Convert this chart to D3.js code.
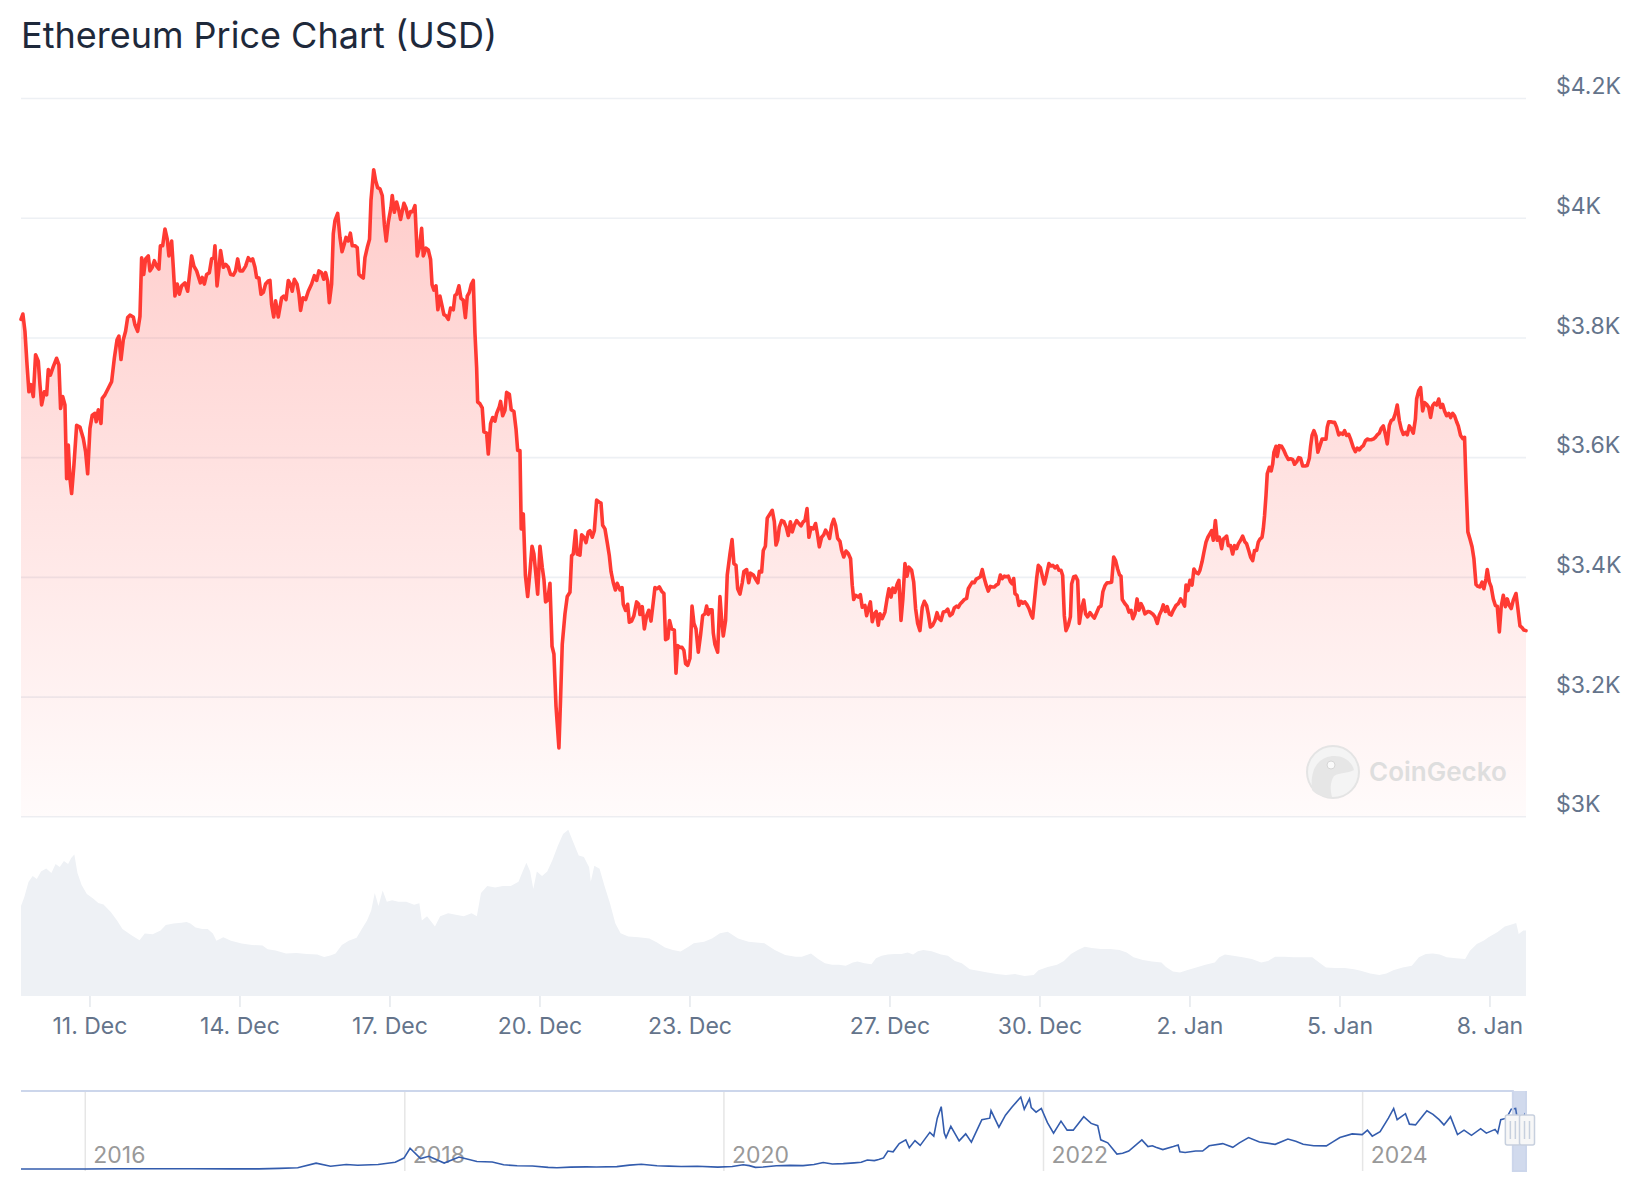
<!DOCTYPE html>
<html><head><meta charset="utf-8">
<script src="https://cdn.jsdelivr.net/npm/d3@7"></script>
<style>
html,body{margin:0;padding:0;background:#fff;}
svg{display:block;font-family:Inter,"Noto Sans",sans-serif;}
</style></head><body>
<svg id="chart" width="1644" height="1200"></svg>
<script>
// ---------- DATA ----------
const title = "Ethereum Price Chart (USD)";
// hours since 2024-12-11 00:00 UTC
const priceHours = [-33.1,-32.2,-31.2,-30.2,-29.3,-28.3,-27.2,-26.1,-24.8,-24.0,-23.2,-21.9,-20.8,-20.0,-19.0,-17.6,-16.0,-14.9,-14.1,-13.1,-12.0,-11.2,-10.4,-9.6,-8.8,-7.7,-6.4,-4.8,-3.2,-2.1,-1.1,0.0,1.1,2.4,3.0,4.0,5.3,5.9,7.2,8.8,10.4,11.7,13.0,13.9,14.9,16.0,17.1,18.1,19.2,20.8,21.6,22.9,24.0,24.8,25.8,26.7,28.0,28.8,29.9,30.9,32.0,33.1,33.8,34.9,36.0,37.1,37.9,39.2,40.0,40.8,41.9,42.9,44.0,45.6,46.9,48.0,48.8,49.9,51.2,53.0,53.9,54.9,56.0,57.3,58.4,59.5,60.0,61.0,61.9,62.7,64.0,65.1,66.4,67.5,68.8,69.9,70.9,72.0,73.3,74.7,76.0,77.1,78.1,79.2,80.0,81.1,82.1,83.2,84.3,85.6,86.4,87.2,88.2,89.1,90.4,92.0,93.0,94.1,95.2,96.2,97.1,98.1,99.4,100.3,101.1,102.2,103.5,104.8,106.4,107.7,108.8,109.9,111.2,112.2,113.1,114.1,114.9,116.0,116.8,117.6,118.9,120.0,121.0,122.1,122.9,124.0,125.0,125.9,127.2,128.3,129.1,130.4,131.2,132.0,133.1,134.2,134.9,136.2,137.1,138.1,139.2,140.3,141.3,142.2,143.2,144.5,145.1,146.1,
147.2,148.2,149.1,150.7,151.7,152.8,153.9,154.9,156.0,157.1,158.1,159.2,160.0,161.3,162.4,163.5,164.2,165.1,166.1,167.0,168.0,168.8,169.9,170.9,172.0,173.1,174.4,175.2,176.0,177.1,178.1,179.2,180.2,181.1,182.1,183.0,184.0,184.8,185.6,186.1,187.2,188.3,189.1,190.4,191.2,192.3,193.3,194.4,195.2,196.5,197.1,198.1,199.2,200.0,201.3,202.2,203.5,204.5,205.3,206.4,207.0,208.0,209.0,210.1,211.2,212.2,213.1,213.9,214.9,216.0,217.1,217.9,218.7,219.7,220.8,221.8,222.7,223.7,225.1,225.9,226.7,228.0,229.1,230.4,231.2,232.0,233.1,233.9,235.2,236.0,237.1,238.1,239.2,240.0,241.1,242.1,243.2,244.3,245.3,246.1,247.2,248.3,249.3,250.1,251.2,252.2,253.1,254.4,255.4,256.0,257.1,258.1,258.9,260.0,261.1,262.4,263.4,264.0,265.1,266.1,267.2,268.2,269.3,270.4,271.2,272.3,273.3,274.4,275.5,276.3,277.4,278.2,279.2,280.5,281.3,282.1,283.2,284.2,285.1,285.9,286.9,288.0,289.0,289.9,290.9,292.0,293.1,294.1,295.2,296.0,296.8,297.6,298.6,299.2,300.0,301.3,302.4,303.2,304.0,305.1,305.9,307.2,308.2,309.1,310.1,310.9,312.0,313.1,313.9,315.2,316.2,317.1,318.4,319.7,320.6,321.3,322.4,323.2,324.2,325.1,326.4,
327.5,328.5,329.3,330.1,330.9,332.0,333.1,334.2,335.2,336.2,337.1,338.1,339.2,340.3,341.3,342.4,343.2,344.2,345.1,346.1,347.2,348.3,349.3,350.1,351.2,352.2,353.1,354.1,355.0,356.0,357.0,357.9,358.9,360.0,360.8,361.8,362.9,364.0,365.1,365.9,366.6,367.5,368.8,369.8,370.7,372.0,372.8,373.6,374.6,375.5,376.5,377.4,378.4,379.2,380.3,381.6,382.6,383.5,384.5,385.4,386.4,387.4,388.3,389.3,390.2,391.2,392.2,393.1,394.4,395.4,396.3,397.3,398.4,399.5,400.5,401.6,402.4,403.4,404.5,405.6,406.6,407.5,408.5,409.6,410.7,411.7,412.8,413.9,414.9,416.0,416.8,417.8,418.7,419.7,420.8,421.6,422.6,423.5,424.5,425.4,426.4,427.4,428.3,429.3,430.2,431.2,432.2,433.1,434.1,435.0,436.0,437.0,437.9,438.9,439.8,440.8,441.8,442.7,443.4,444.0,445.0,445.9,446.9,447.8,448.8,449.8,450.7,451.7,452.5,453.6,454.4,455.2,456.2,457.1,458.1,459.0,460.3,461.3,462.2,463.2,464.2,465.1,466.1,466.9,467.7,468.5,469.6,470.6,471.2,472.2,473.1,474.1,474.9,476.0,477.0,477.9,478.9,480.0,481.1,482.1,483.2,484.3,485.3,486.2,487.2,488.2,489.1,490.4,491.4,492.3,493.3,494.2,494.9,495.5,496.8,497.8,498.7,499.7,500.6,501.6,502.6,503.5,504.5,505.4,506.4,
507.8,508.8,510.1,511.2,512.3,513.3,514.4,515.2,516.2,517.1,518.1,519.0,520.0,521.3,522.4,523.5,524.5,525.4,526.1,527.0,528.0,529.0,529.9,530.9,532.0,532.8,533.8,534.7,535.7,536.6,537.6,538.4,539.2,540.2,541.1,542.1,543.2,544.0,545.0,545.6,546.4,547.5,548.5,549.4,550.4,551.2,552.3,553.3,554.4,555.2,556.2,557.1,558.1,559.0,560.0,560.8,561.6,562.6,563.2,563.8,564.5,565.1,566.1,567.0,567.7,568.3,569.3,569.9,570.9,572.0,573.1,574.1,575.2,576.3,577.3,578.2,579.2,580.2,581.1,582.1,583.2,584.3,585.3,585.9,586.6,587.5,588.5,589.4,590.4,591.4,592.3,593.3,593.9,594.6,595.5,596.5,597.4,598.4,599.4,600.3,601.3,602.2,603.2,604.2,605.1,606.4,607.4,608.3,609.3,610.2,611.2,612.2,613.1,614.1,615.0,616.0,617.0,617.9,618.9,619.8,620.8,621.8,622.7,623.7,624.6,625.6,626.6,627.5,628.5,629.4,630.4,631.4,632.3,633.3,634.2,635.2,636.2,636.8,637.8,638.7,639.7,640.6,641.6,642.6,643.5,644.5,645.4,646.4,647.4,648.3,649.3,650.2,651.2,652.2,653.1,654.1,655.0,656.0,656.8,657.9,658.9,659.8,660.5,661.4,662.4,663.4,664.3,665.3,666.2,667.2,668.2,669.1,670.1,670.7,671.7,672.6,673.6,674.6,675.5,676.5,677.4,678.4,679.4,680.3,681.3,682.2,683.2,684.5,685.4,686.4,687.4,688.3,689.3];
const prices = [3831,3840,3811,3755,3710,3722,3702,3772,3761,3722,3688,3710,3705,3747,3738,3752,3766,3755,3682,3702,3688,3565,3621,3565,3540,3587,3654,3651,3632,3610,3573,3649,3671,3674,3660,3680,3657,3699,3705,3716,3727,3766,3797,3803,3764,3797,3811,3834,3838,3835,3822,3811,3836,3934,3906,3932,3937,3912,3918,3929,3920,3915,3954,3954,3982,3965,3937,3962,3918,3870,3890,3873,3887,3892,3878,3912,3937,3920,3912,3892,3901,3890,3906,3909,3932,3934,3954,3887,3915,3946,3918,3923,3918,3906,3905,3912,3932,3912,3912,3920,3934,3929,3932,3918,3901,3900,3873,3876,3890,3895,3896,3856,3835,3862,3835,3867,3870,3864,3896,3890,3878,3898,3890,3873,3846,3867,3864,3878,3890,3904,3896,3912,3909,3898,3909,3895,3859,3890,3974,3996,4008,3968,3944,3957,3968,3962,3975,3954,3954,3951,3906,3902,3900,3934,3951,3965,4030,4081,4063,4051,4049,4038,3990,3962,3993,4018,4038,4010,
4027,4014,3998,4025,4017,4001,4011,4011,4021,3937,3950,3983,3937,3950,3947,3931,3889,3880,3887,3847,3870,3857,3839,3837,3831,3850,3847,3871,3873,3887,3866,3863,3834,3870,3876,3889,3896,3808,3751,3693,3690,3683,3643,3641,3606,3657,3667,3661,3674,3685,3694,3670,3679,3709,3706,3680,3677,3648,3612,3612,3481,3506,3404,3368,3410,3452,3439,3410,3372,3452,3417,3397,3359,3362,3390,3285,3272,3185,3115,3198,3288,3339,3368,3375,3436,3439,3478,3439,3437,3471,3467,3458,3476,3478,3467,3478,3529,3526,3524,3487,3481,3458,3436,3410,3391,3379,3390,3379,3383,3355,3345,3355,3325,3327,3336,3359,3355,3338,3351,3314,3336,3345,3327,3359,3383,3381,3384,3377,3373,3296,3298,3328,3314,3312,3240,3286,3283,3283,3278,3256,3253,3265,3352,3323,3314,3275,3304,3336,3339,3352,3338,3346,3346,3307,3288,3275,3368,3330,3302,3328,3404,3439,3463,3423,3420,3381,3372,3391,3410,3413,3391,3407,3404,3396,3391,3410,3409,3445,3452,3499,3506,
3512,3493,3454,3462,3484,3495,3493,3484,3470,3493,3476,3487,3495,3490,3486,3493,3495,3515,3467,3483,3481,3490,3470,3451,3467,3471,3479,3473,3465,3487,3497,3487,3465,3460,3445,3434,3444,3440,3431,3387,3363,3370,3367,3371,3350,3353,3336,3347,3359,3326,3339,3343,3320,3339,3331,3342,3364,3381,3367,3382,3375,3388,3395,3328,3364,3423,3402,3417,3412,3392,3348,3323,3311,3350,3360,3353,3339,3317,3320,3328,3341,3331,3328,3342,3343,3347,3336,3339,3349,3352,3350,3356,3359,3363,3365,3381,3387,3392,3391,3397,3399,3401,3413,3398,3387,3377,3385,3384,3384,3387,3389,3404,3398,3402,3401,3402,3393,3389,3398,3373,3370,3353,3360,3357,3359,3354,3348,3338,3332,3370,3398,3420,3416,3403,3389,3402,3423,3419,3420,3416,3419,3412,3412,3403,3336,3311,3320,3334,3389,3401,3402,3395,3323,3348,3362,3339,3334,3341,3336,3332,3341,3350,3352,3376,3386,3391,3391,3392,3434,3428,3414,3404,3402,3363,3356,3352,3342,3345,3331,3339,3364,3345,3356,3350,3339,
3343,3342,3339,3334,3323,3337,3345,3354,3343,3351,3339,3337,3345,3353,3356,3364,3359,3352,3387,3378,3395,3387,3414,3408,3406,3412,3426,3442,3459,3467,3473,3478,3462,3495,3462,3467,3448,3464,3467,3469,3453,3453,3439,3453,3448,3456,3462,3469,3459,3456,3445,3434,3428,3445,3445,3459,3464,3467,3481,3503,3537,3573,3584,3578,3589,3609,3619,3602,3620,3619,3612,3604,3597,3598,3597,3589,3593,3600,3599,3586,3586,3587,3599,3619,3637,3645,3636,3609,3620,3631,3631,3631,3651,3660,3660,3659,3659,3651,3638,3641,3639,3645,3637,3639,3631,3617,3610,3616,3613,3617,3620,3628,3631,3630,3630,3631,3634,3638,3641,3649,3653,3639,3623,3654,3662,3664,3674,3688,3662,3648,3639,3642,3638,3653,3648,3641,3664,3698,3712,3717,3678,3692,3689,3684,3667,3687,3691,3688,3698,3684,3689,3678,3670,3674,3667,3674,3670,3660,3653,3637,3632,3634,3559,3476,3464,3451,3431,3388,3385,3384,3392,3381,3398,3413,3392,3384,3364,3353,3352,3309,3351,3370,3351,3364,3353,3348,3362,3373,3348,3319,3316,3312,3311];

const volumeHours = [-33.1,-31.5,-29.5,-27.5,-25.5,-23.5,-21.0,-18.5,-16.5,-14.5,-12.5,-10.5,-9.0,-7.5,-6.0,-4.0,-1.5,1.5,4.0,6.5,10.0,13.0,15.6,20.1,23.8,26.3,30.1,33.9,36.4,40.1,43.9,46.4,48.2,50.7,53.9,56.5,59.0,60.7,64.0,67.7,72.8,77.8,82.8,85.3,89.1,94.1,99.1,104.1,109.1,112.4,115.4,117.9,120.9,124.2,128.0,130.5,133.0,135.0,136.7,138.5,140.5,142.5,145.0,148.0,151.8,155.6,158.1,159.3,161.8,165.6,168.1,171.9,175.6,179.4,183.2,185.7,187.7,190.7,194.5,198.2,202.0,205.7,207.7,209.5,211.3,212.8,214.5,217.0,219.5,222.0,224.6,227.1,229.6,232.1,234.6,237.1,239.6,240.4,242.1,244.6,247.1,249.6,252.2,254.7,258.4,263.4,268.5,272.2,276.0,279.8,283.5,287.3,289.8,294.8,298.6,302.4,306.1,311.1,316.1,323.7,328.7,333.7,338.7,341.7,346.1,349.5,352.8,356.2,359.5,362.8,366.2,368.4,371.8,375.1,377.3,380.0,382.9,386.2,389.6,392.5,395.1,397.4,400.0,404.0,408.5,411.8,415.2,418.5,422.3,426.3,430.8,435.2,439.7,444.1,448.6,453.0,455.3,459.7,464.2,467.5,470.9,474.2,477.5,480.9,485.3,489.8,494.2,497.6,500.9,505.4,509.8,514.3,516.5,519.8,523.2,526.5,531.0,535.4,539.9,542.1,544.8,548.8,553.3,557.7,562.2,565.5,568.9,573.3,577.8,582.2,586.7,590.0,593.3,597.8,602.3,606.7,610.0,614.5,618.9,622.3,625.6,630.1,634.5,637.9,641.2,644.6,647.9,651.2,655.7,660.1,662.4,665.7,669.1,671.3,675.7,679.1,682.4,684.6,685.8,688.0,689.3];
// 24h volume, billions USD
const volumes = [30.0,33.0,38.0,40.0,39.0,41.5,42.5,41.0,44.0,43.0,45.0,44.0,46.0,47.2,41.0,37.0,34.0,32.5,31.0,30.5,28.0,25.2,22.3,20.2,18.6,20.8,20.6,21.8,23.7,24.2,24.4,24.7,24.2,22.8,22.3,22.3,20.8,18.4,19.6,18.4,17.5,17.0,16.8,15.6,15.2,14.2,14.3,14.0,13.8,13.0,13.5,14.2,17.0,18.4,19.4,22.3,25.2,28.5,34.3,30.0,35.2,31.4,31.9,31.4,31.4,30.4,30.9,25.2,26.6,23.2,26.6,27.6,27.1,26.6,27.6,26.6,34.3,36.7,36.2,36.7,36.7,38.1,41.5,44.4,41.5,35.7,41.5,40.0,41.5,45.3,50.1,54.0,55.4,51.1,46.8,46.3,42.9,38.1,43.4,42.4,36.4,30.9,24.2,20.9,19.8,19.6,19.2,17.8,16.2,15.3,14.8,16.4,17.6,18.1,19.2,20.9,21.4,19.2,18.1,17.6,15.3,13.7,13.1,13.1,14.2,12.3,10.9,10.4,10.4,10.1,11.2,11.5,10.9,10.6,12.6,13.4,13.8,14.0,14.0,14.5,13.8,14.9,15.3,14.9,13.8,13.4,11.7,10.9,8.9,8.4,7.8,7.3,7.0,7.3,6.7,7.0,8.6,9.7,10.4,11.7,14.0,15.3,16.4,16.0,15.7,15.7,15.3,14.5,12.9,12.0,11.5,11.2,9.7,8.2,7.8,8.6,9.5,10.4,11.2,12.9,13.8,13.4,12.9,12.3,11.2,11.7,13.1,13.1,12.9,12.9,12.9,11.2,9.5,9.3,9.3,8.9,8.4,7.5,7.0,7.5,8.6,9.5,10.1,12.9,14.0,14.2,13.8,12.9,12.6,12.3,15.1,17.3,18.5,19.6,21.3,23.2,23.8,24.3,20.7,21.8,21.8];

const xTickDates = ["2024-12-11","2024-12-14","2024-12-17","2024-12-20","2024-12-23","2024-12-27","2024-12-30","2025-01-02","2025-01-05","2025-01-08"];
const xTickLabels = ["11. Dec","14. Dec","17. Dec","20. Dec","23. Dec","27. Dec","30. Dec","2. Jan","5. Jan","8. Jan"];
const yTicks = [3000,3200,3400,3600,3800,4000,4200];
const yTickLabels = ["$3K","$3.2K","$3.4K","$3.6K","$3.8K","$4K","$4.2K"];

const navDates = ["2015-08-07","2015-10-01","2016-01-01","2016-03-15","2016-06-15","2016-09-01","2016-12-01","2017-02-01","2017-03-20","2017-05-01","2017-06-12","2017-07-15","2017-08-20","2017-09-15","2017-11-01","2017-12-10","2017-12-30","2018-01-13","2018-02-06","2018-02-25","2018-04-01","2018-05-05","2018-06-15","2018-07-20","2018-08-15","2018-09-15","2018-10-20","2018-11-25","2018-12-15","2019-01-15","2019-02-20","2019-03-15","2019-05-01","2019-05-30","2019-06-26","2019-08-01","2019-08-28","2019-09-25","2019-11-01","2019-12-18","2020-01-20","2020-02-14","2020-02-28","2020-03-13","2020-03-31","2020-04-30","2020-05-31","2020-06-30","2020-07-25","2020-08-15","2020-09-05","2020-09-30","2020-10-25","2020-11-10","2020-11-24","2020-12-10","2020-12-20","2020-12-31","2021-01-10","2021-01-22","2021-02-05","2021-02-20","2021-02-28","2021-03-13","2021-03-25","2021-04-16","2021-04-25","2021-05-03","2021-05-12","2021-05-19","2021-05-23","2021-06-03","2021-06-22","2021-07-07","2021-07-20","2021-08-05","2021-08-13","2021-08-31","2021-09-03","2021-09-21","2021-10-06","2021-10-21","2021-11-10","2021-11-18","2021-11-30","2021-12-04","2021-12-15","2021-12-27","2022-01-10","2022-01-24","2022-02-10","2022-02-24","2022-03-10","2022-04-03","2022-04-20","2022-05-05","2022-05-12","2022-05-28","2022-06-18","2022-07-01","2022-07-15","2022-08-14","2022-08-28","2022-09-07","2022-09-15","2022-10-01","2022-10-25","2022-11-05","2022-11-09","2022-11-21","2022-12-15","2022-12-31","2023-01-15","2023-02-15","2023-03-10","2023-03-25","2023-04-15","2023-05-10","2023-06-15","2023-07-14","2023-08-01","2023-08-18","2023-09-11","2023-10-10","2023-10-24","2023-11-10","2023-12-08","2023-12-31","2024-01-12","2024-01-23","2024-02-10","2024-02-29","2024-03-12","2024-03-20","2024-04-08","2024-04-17","2024-05-01","2024-05-20","2024-05-27","2024-06-10","2024-06-24","2024-07-05","2024-07-20","2024-08-05","2024-08-20","2024-09-06","2024-09-27","2024-10-10","2024-10-30","2024-11-05","2024-11-12","2024-11-25","2024-12-06","2024-12-16","2024-12-20","2024-12-31","2025-01-06","2025-01-08"];
const navPrices = [2.8,0.7,1,12,18,12,8,11,45,80,390,180,300,250,300,450,730,1390,700,850,400,800,500,470,280,220,200,110,85,125,140,135,160,260,320,220,190,165,180,125,170,280,225,110,133,215,245,226,300,430,335,360,410,450,600,560,640,740,1200,1150,1700,1950,1420,1900,1580,2450,2200,3400,4170,2400,2100,2850,1880,2350,1800,2800,3300,3400,3900,2800,3600,4150,4810,4000,4700,4100,3800,4050,3100,2400,3200,2600,2600,3500,3050,2900,1950,1750,1000,1050,1200,1950,1500,1550,1450,1300,1500,1600,1150,1100,1200,1200,1550,1700,1450,1750,2100,1800,1650,2000,1850,1650,1560,1550,1800,2100,2350,2300,2600,2200,2500,3400,4050,3300,3700,3000,2950,3650,3900,3650,3300,2950,3500,2300,2600,2250,2700,2400,2650,2400,3300,3400,4000,4050,3300,3350,3650,3300];
const navYears = ["2016","2018","2020","2022","2024"];
const watermarkText = "CoinGecko";

// ---------- LAYOUT ----------
const L = 21, R = 1526;
const priceTop = 98.5, priceBottom = 816.8;
const volBottom = 996;
const navTop = 1091, navBottom = 1171;

const svg = d3.select("#chart");
const ORIGIN = Date.UTC(2024, 11, 11);
const priceData = priceHours.map((h, i) => ({t: new Date(ORIGIN + h * 3600e3), v: prices[i]}));
const volData = volumeHours.map((h, i) => ({t: new Date(ORIGIN + h * 3600e3), v: volumes[i]}));
const parse = d3.utcParse("%Y-%m-%d");
const navData = navDates.map((d, i) => ({t: parse(d), v: navPrices[i]}));
navData[navData.length - 1].t = priceData[priceData.length - 1].t;

const x = d3.scaleUtc().domain([priceData[0].t, priceData[priceData.length - 1].t]).range([L, R]);
const y = d3.scaleLinear().domain([3000, 4200]).range([priceBottom, priceTop]);
const yVol = d3.scaleLinear().domain([0, 60]).range([volBottom, volBottom - 180]);
const xNav = d3.scaleUtc().domain([navData[0].t, navData[navData.length - 1].t]).range([L, R]);
const yNav = d3.scaleLinear().domain([0, 4950]).range([1169, 1095]);

// title
svg.append("text").attr("x", 21).attr("y", 48).attr("font-size", 36).attr("fill", "#1e293b")
  .text(title);

// gridlines
svg.append("g").selectAll("line").data(yTicks).join("line")
  .attr("x1", L).attr("x2", R).attr("y1", d => y(d)).attr("y2", d => y(d))
  .attr("stroke", "#edf0f4").attr("stroke-width", 1.6);

// y labels
svg.append("g").selectAll("text").data(yTicks).join("text")
  .attr("x", 1556).attr("y", d => y(d) - 4.4).attr("font-size", 23).attr("fill", "#64748b")
  .text((d, i) => yTickLabels[i]);

// volume
svg.append("path").datum(volData)
  .attr("d", d3.area().x(d => x(d.t)).y0(volBottom).y1(d => yVol(d.v)))
  .attr("fill", "#eef1f5");

// price area gradient
const defs = svg.append("defs");
const grad = defs.append("linearGradient").attr("id", "pg").attr("gradientUnits", "userSpaceOnUse")
  .attr("x1", 0).attr("x2", 0).attr("y1", y(4080)).attr("y2", priceBottom);
grad.append("stop").attr("offset", 0).attr("stop-color", "#ff3a33").attr("stop-opacity", 0.26);
grad.append("stop").attr("offset", 1).attr("stop-color", "#ff3a33").attr("stop-opacity", 0.02);

svg.append("path").datum(priceData)
  .attr("d", d3.area().x(d => x(d.t)).y0(priceBottom).y1(d => y(d.v)))
  .attr("fill", "url(#pg)");

// watermark
const wm = svg.append("g");
wm.append("circle").attr("cx", 1333).attr("cy", 772).attr("r", 26).attr("fill", "#f4f4f4").attr("stroke", "#e4e4e4").attr("stroke-width", 2);
wm.append("path").attr("d", "M1312,790 C1310,772 1316,758 1332,756 C1344,755 1352,762 1354,770 C1347,774 1340,772 1334,776 C1330,782 1330,790 1332,797 C1323,797 1316,795 1312,790 Z")
  .attr("fill", "#e6e6e6");
wm.append("circle").attr("cx", 1331).attr("cy", 765).attr("r", 4).attr("fill", "#fafafa").attr("stroke", "#d6d6d6").attr("stroke-width", 1);
wm.append("text").attr("x", 1369).attr("y", 781).attr("font-size", 26).attr("font-weight", 600)
  .attr("fill", "#dedede").text(watermarkText);

// price line
svg.append("path").datum(priceData)
  .attr("d", d3.line().x(d => x(d.t)).y(d => y(d.v)))
  .attr("fill", "none").attr("stroke", "#ff3a33").attr("stroke-width", 3.6)
  .attr("stroke-linejoin", "round").attr("stroke-linecap", "round");

// x axis ticks + labels
const xt = xTickDates.map(parse);
svg.append("g").selectAll("line").data(xt).join("line")
  .attr("x1", d => x(d)).attr("x2", d => x(d)).attr("y1", volBottom).attr("y2", volBottom + 11)
  .attr("stroke", "#e3e7ec").attr("stroke-width", 1.5);
svg.append("g").selectAll("text").data(xt).join("text")
  .attr("x", d => x(d)).attr("y", 1034).attr("text-anchor", "middle")
  .attr("font-size", 23).attr("fill", "#64748b")
  .text((d, i) => xTickLabels[i]);

// navigator
const nav = svg.append("g");
nav.selectAll("line.yr").data(navYears).join("line").attr("class", "yr")
  .attr("x1", d => xNav(parse(d + "-01-01"))).attr("x2", d => xNav(parse(d + "-01-01")))
  .attr("y1", navTop).attr("y2", navBottom).attr("stroke", "#e6e6e6").attr("stroke-width", 1.5);
nav.selectAll("text").data(navYears).join("text")
  .attr("x", d => xNav(parse(d + "-01-01")) + 8).attr("y", 1163)
  .attr("font-size", 23).attr("fill", "#999999").text(d => d);
nav.append("path").datum(navData)
  .attr("d", d3.line().x(d => xNav(d.t)).y(d => yNav(d.v)))
  .attr("fill", "none").attr("stroke", "#335cad").attr("stroke-width", 1.6);

const mL = xNav(priceData[0].t), mR = xNav(priceData[priceData.length - 1].t);
nav.append("rect").attr("x", mL).attr("y", navTop).attr("width", mR - mL).attr("height", navBottom - navTop)
  .attr("fill", "rgba(102,133,194,0.3)");
nav.append("path").attr("d", `M${L},${navTop}H${mL}V${navBottom}H${mR}V${navTop}`)
  .attr("fill", "none").attr("stroke", "#ccd6eb").attr("stroke-width", 2);

[mL, mR + 1].forEach(cx => {
  const g = nav.append("g");
  g.append("rect").attr("x", cx - 7.5).attr("y", 1115).attr("width", 15).attr("height", 30).attr("rx", 2)
    .attr("fill", "#f7f7f7").attr("stroke", "#c7d0de").attr("stroke-width", 1.5);
  [-2.5, 2.5].forEach(dx => g.append("line").attr("x1", cx + dx).attr("x2", cx + dx)
    .attr("y1", 1121).attr("y2", 1139).attr("stroke", "#c7d0de").attr("stroke-width", 1.5));
});
</script>
</body></html>
